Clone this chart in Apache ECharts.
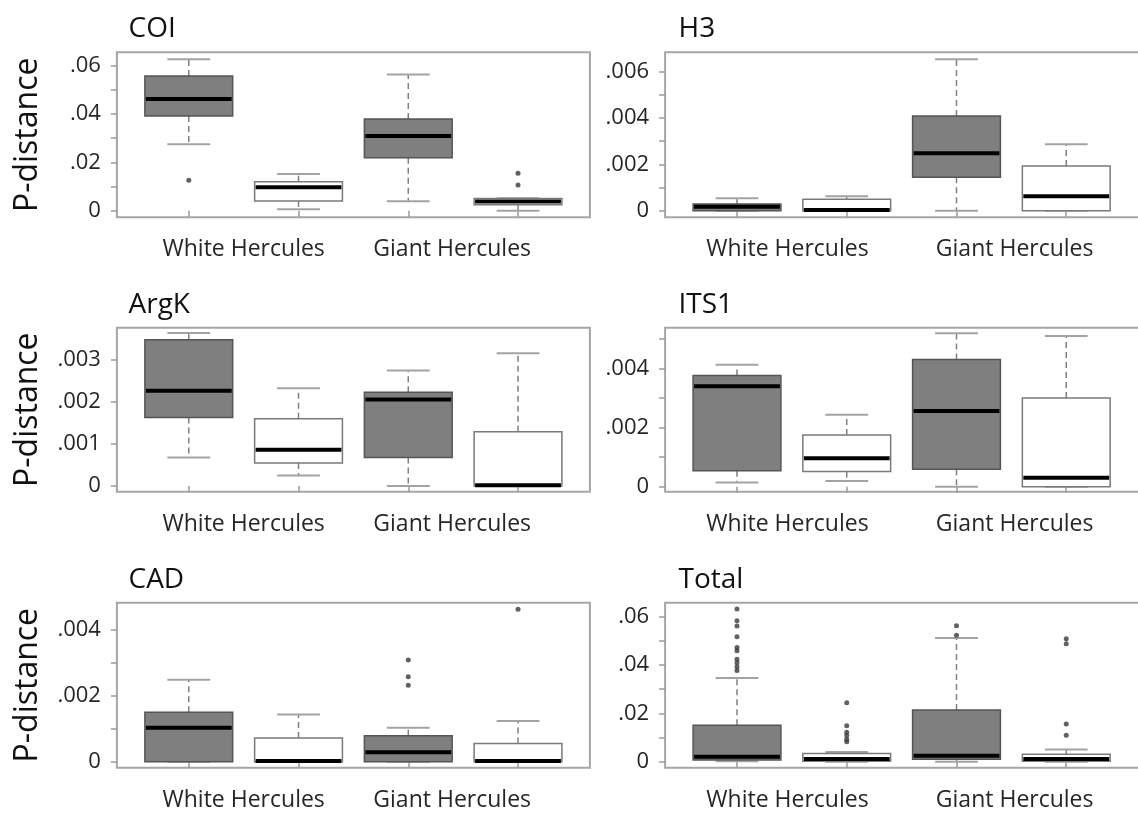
<!DOCTYPE html>
<html><head><meta charset="utf-8">
<script src="https://cdn.jsdelivr.net/npm/echarts@6/dist/echarts.min.js"></script>
<style>html,body{margin:0;padding:0;background:#fff}#c{width:1138px;height:815px}</style>
</head><body><div id="c"></div>
<script>
// ---------- data ----------
const genes = ['COI', 'H3', 'ArgK', 'ITS1', 'CAD', 'Total'];
const groups = ['White Hercules', 'Giant Hercules'];
const positions = [1, 2, 3, 4];

// each box: [min, Q1, median, Q3, max]
const coiBoxes = [
  [0.0275, 0.0392, 0.0462, 0.0557, 0.0627],
  [0.0006, 0.0040, 0.0097, 0.0120, 0.0152],
  [0.0039, 0.0219, 0.0309, 0.0379, 0.0564],
  [0.0000, 0.0025, 0.0038, 0.0050, 0.0052]
];
const coiOutliers = [[1, 0.0126], [4, 0.0155], [4, 0.0106]];

const h3Boxes = [
  [0, 0, 0.00017, 0.00029, 0.00054],
  [0, 0, 0.00003, 0.00049, 0.00062],
  [0, 0.00144, 0.00248, 0.00409, 0.00654],
  [0, 0, 0.00062, 0.00193, 0.00287]
];
const h3Outliers = [];

const argkBoxes = [
  [0.00068, 0.00163, 0.00227, 0.00348, 0.00364],
  [0.00025, 0.00055, 0.00086, 0.00160, 0.00233],
  [0, 0.00068, 0.00206, 0.00223, 0.00275],
  [0, 0, 0.00002, 0.00129, 0.00316]
];
const argkOutliers = [];

const its1Boxes = [
  [0.00014, 0.00054, 0.00340, 0.00376, 0.00413],
  [0.00019, 0.00051, 0.00096, 0.00175, 0.00243],
  [0, 0.00059, 0.00256, 0.00430, 0.00519],
  [0, 0, 0.00030, 0.00300, 0.00510]
];
const its1Outliers = [];

const cadBoxes = [
  [0, 0, 0.00103, 0.00150, 0.00249],
  [0, 0, 0.00002, 0.00072, 0.00143],
  [0, 0, 0.00029, 0.00079, 0.00103],
  [0, 0, 0.00002, 0.00055, 0.00124]
];
const cadOutliers = [[3, 0.00309], [3, 0.00258], [3, 0.00232], [4, 0.00463]];

const totalBoxes = [
  [0.0002, 0.0007, 0.0021, 0.0151, 0.0346],
  [0.0000, 0.0002, 0.0011, 0.0034, 0.0040],
  [0.0000, 0.0010, 0.0025, 0.0214, 0.0512],
  [0.0000, 0.0002, 0.0011, 0.0031, 0.0051]
];
const totalOutliers = [
  [1, 0.0632], [1, 0.0583], [1, 0.0562], [1, 0.0517], [1, 0.0473], [1, 0.0459],
  [1, 0.0424], [1, 0.0410], [1, 0.0393], [1, 0.0377],
  [2, 0.0244], [2, 0.0149], [2, 0.0122], [2, 0.0108], [2, 0.0093], [2, 0.0083],
  [3, 0.0563], [3, 0.0523],
  [4, 0.0509], [4, 0.0488], [4, 0.0156], [4, 0.0110]
];

// axis extents and ticks
const coiRange = [-0.00273, 0.06555];
const coiTicks = [0, 0.01, 0.02, 0.03, 0.04, 0.05, 0.06];
const coiLabels = [0, 0.02, 0.04, 0.06];
const h3Range = [-0.000285, 0.006837];
const h3Ticks = [0, 0.001, 0.002, 0.003, 0.004, 0.005, 0.006];
const h3Labels = [0, 0.002, 0.004, 0.006];
const argkRange = [-0.000136, 0.003769];
const argkTicks = [0, 0.001, 0.002, 0.003];
const argkLabels = [0, 0.001, 0.002, 0.003];
const its1Range = [-0.00017, 0.00538];
const its1Ticks = [0, 0.001, 0.002, 0.003, 0.004, 0.005];
const its1Labels = [0, 0.002, 0.004];
const cadRange = [-0.000182, 0.004829];
const cadTicks = [0, 0.001, 0.002, 0.003, 0.004];
const cadLabels = [0, 0.002, 0.004];
const totalRange = [-0.00248, 0.0658];
const totalTicks = [0, 0.01, 0.02, 0.03, 0.04, 0.05, 0.06];
const totalLabels = [0, 0.02, 0.04, 0.06];

const panels = [
  { name: genes[0], boxes: coiBoxes, out: coiOutliers, range: coiRange, ticks: coiTicks, labels: coiLabels },
  { name: genes[1], boxes: h3Boxes, out: h3Outliers, range: h3Range, ticks: h3Ticks, labels: h3Labels },
  { name: genes[2], boxes: argkBoxes, out: argkOutliers, range: argkRange, ticks: argkTicks, labels: argkLabels },
  { name: genes[3], boxes: its1Boxes, out: its1Outliers, range: its1Range, ticks: its1Ticks, labels: its1Labels },
  { name: genes[4], boxes: cadBoxes, out: cadOutliers, range: cadRange, ticks: cadTicks, labels: cadLabels },
  { name: genes[5], boxes: totalBoxes, out: totalOutliers, range: totalRange, ticks: totalTicks, labels: totalLabels }
];

// ---------- layout ----------
const FONT = '"Open Sans", "DejaVu Sans", sans-serif';
const cols = [
  { left: 116.9, width: 473, xMin: 0.345, xMax: 4.655, lab: [1.5, 3.4], title: 128.5 },
  { left: 665.1, width: 476, xMin: 0.345, xMax: 4.682, lab: [1.46, 3.53], title: 678.5 }
];
const rows = [
  { top: 52.3, height: 165 },
  { top: 327.7, height: 164 },
  { top: 602.7, height: 165 }
];

function fmtY(v) {
  if (v === 0) return '0';
  return String(v).replace(/^0\./, '.');
}

function renderBox(params, api) {
  const x = api.value(0);
  const pMin = api.coord([x, api.value(1)]);
  const pQ1 = api.coord([x, api.value(2)]);
  const pMed = api.coord([x, api.value(3)]);
  const pQ3 = api.coord([x, api.value(4)]);
  const pMax = api.coord([x, api.value(5)]);
  const band = api.size([1, 0])[0];
  const cx = pMin[0];
  const bw = band * 0.8, cw = band * 0.39;
  const white = params.dataIndex % 2 === 1;
  const dash = { stroke: '#808080', lineWidth: 1.5, lineDash: [6, 4] };
  const cap = { stroke: '#a3a3a3', lineWidth: 2 };
  return {
    type: 'group',
    children: [
      { type: 'line', shape: { x1: cx, y1: pQ3[1], x2: cx, y2: pMax[1] }, style: dash },
      { type: 'line', shape: { x1: cx, y1: pQ1[1], x2: cx, y2: pMin[1] }, style: dash },
      { type: 'line', shape: { x1: cx - cw / 2, y1: pMax[1], x2: cx + cw / 2, y2: pMax[1] }, style: cap },
      { type: 'line', shape: { x1: cx - cw / 2, y1: pMin[1], x2: cx + cw / 2, y2: pMin[1] }, style: cap },
      { type: 'rect', shape: { x: cx - bw / 2, y: pQ3[1], width: bw, height: Math.max(pQ1[1] - pQ3[1], 1) },
        style: { fill: white ? '#ffffff' : '#7f7f7f', stroke: white ? '#7a7a7a' : '#555555', lineWidth: 1.5 } },
      { type: 'line', shape: { x1: cx - bw / 2 + 1, y1: pMed[1], x2: cx + bw / 2 - 1, y2: pMed[1] },
        style: { stroke: '#000000', lineWidth: 4 } }
    ]
  };
}

const grid = [], xAxis = [], yAxis = [], series = [], title = [];
panels.forEach((p, i) => {
  const c = cols[i % 2], r = rows[Math.floor(i / 2)];
  grid.push({ left: c.left, top: r.top, width: c.width, height: r.height, show: true,
    borderColor: '#a6a6a6', borderWidth: 2, backgroundColor: 'transparent',
    containLabel: false, outerBoundsMode: 'none' });
  title.push({ text: p.name, left: c.title, top: r.top - 37, padding: 0,
    textStyle: { fontFamily: FONT, fontSize: 28, fontWeight: 'normal', color: '#111' } });
  xAxis.push({ type: 'value', gridIndex: i, min: c.xMin, max: c.xMax,
    axisLine: { show: false }, splitLine: { show: false },
    axisTick: { show: true, customValues: positions, length: 6, lineStyle: { color: '#9a9a9a', width: 1.5 } },
    axisLabel: { customValues: c.lab, margin: 21, fontFamily: FONT, fontSize: 23, color: '#262626',
      formatter: v => (v < 2.5 ? groups[0] : groups[1]) } });
  const ya = { type: 'value', gridIndex: i, min: p.range[0], max: p.range[1],
    axisLine: { show: false }, splitLine: { show: false },
    axisTick: { show: true, customValues: p.ticks, length: 6, lineStyle: { color: '#9a9a9a', width: 1.5 } },
    axisLabel: { customValues: p.labels, margin: 16, fontFamily: FONT, fontSize: 22, color: '#262626', formatter: fmtY } };
  if (i % 2 === 0) {
    Object.assign(ya, { name: 'P-distance', nameLocation: 'middle', nameRotate: 90, nameGap: 73,
      nameTextStyle: { fontFamily: FONT, fontSize: 32, color: '#111' } });
  }
  yAxis.push(ya);
  series.push({ type: 'custom', xAxisIndex: i, yAxisIndex: i, renderItem: renderBox, clip: false,
    encode: { x: 0, y: [1, 2, 3, 4, 5] },
    data: p.boxes.map((b, k) => [positions[k]].concat(b)) });
  series.push({ type: 'scatter', xAxisIndex: i, yAxisIndex: i, symbol: 'circle', symbolSize: 5,
    itemStyle: { color: '#3a3a3a' }, data: p.out });
});

const chart = echarts.init(document.getElementById('c'), null, { renderer: 'canvas' });
chart.setOption({ animation: false, backgroundColor: '#ffffff', title, grid, xAxis, yAxis, series });
</script></body></html>
